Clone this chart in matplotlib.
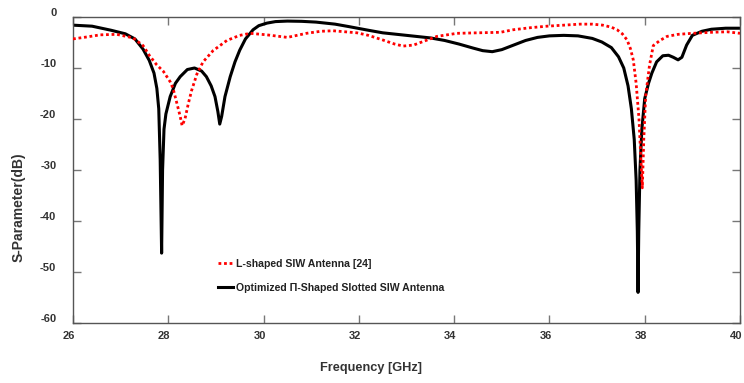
import matplotlib
matplotlib.use("Agg")
import matplotlib.pyplot as plt
import matplotlib.transforms as mtransforms

plt.rcParams['font.family'] = ['Liberation Sans', 'DejaVu Sans']
plt.rcParams['axes.unicode_minus'] = False

# ---- data ----
freq_opt = [26.0, 26.4, 26.8, 27.1, 27.3, 27.47, 27.6, 27.7, 27.76, 27.8, 27.83, 27.86,
            27.88, 27.91, 27.95, 28.04, 28.15, 28.25, 28.4, 28.55, 28.7, 28.8, 28.9, 28.98,
            29.04, 29.08, 29.12, 29.19, 29.3, 29.4, 29.5, 29.62, 29.78, 29.9, 30.07, 30.25,
            30.5, 30.8, 31.1, 31.5, 31.8, 32.2, 32.5, 32.9, 33.2, 33.5, 33.8, 34.1, 34.4,
            34.6, 34.8, 35.0, 35.25, 35.5, 35.75, 36.0, 36.3, 36.6, 36.9, 37.1, 37.3, 37.45,
            37.56, 37.65, 37.72, 37.78, 37.82, 37.845, 37.86, 37.875, 37.9, 37.94, 38.0,
            38.08, 38.15, 38.25, 38.38, 38.5, 38.6, 38.7, 38.78, 38.88, 39.0, 39.2, 39.4,
            39.7, 40.0]
s_opt = [-1.6, -1.8, -2.6, -3.3, -4.3, -6.3, -8.5, -11.0, -14.0, -18.0, -28.0, -46.3,
         -30.0, -22.0, -19.0, -15.6, -13.0, -11.7, -10.3, -10.0, -10.6, -11.7, -13.5, -15.6,
         -18.5, -21.0, -19.5, -15.6, -11.7, -8.8, -6.5, -4.3, -2.5, -1.7, -1.2, -0.9,
         -0.8, -0.85, -1.0, -1.4, -1.9, -2.6, -3.1, -3.5, -3.8, -4.1, -4.6, -5.3, -6.1,
         -6.6, -6.8, -6.4, -5.5, -4.6, -4.0, -3.7, -3.6, -3.7, -4.2, -4.9, -6.0, -7.8,
         -10.0, -13.5, -18.0, -24.0, -32.0, -42.0, -54.0, -42.0, -30.0, -22.0, -16.0,
         -13.0, -11.0, -8.8, -7.6, -7.5, -7.9, -8.4, -7.9, -5.5, -3.6, -2.8, -2.4,
         -2.2, -2.2]

freq_l = [26.0, 26.3, 26.57, 26.92, 27.26, 27.47, 27.6, 27.75, 27.9, 28.04, 28.1, 28.18,
          28.25, 28.29, 28.35, 28.42, 28.49, 28.6, 28.73, 28.94, 29.23, 29.5, 29.72, 30.07,
          30.5, 30.9, 31.2, 31.46, 31.96, 32.2, 32.5, 32.75, 32.93, 33.15, 33.35, 33.64,
          34.06, 34.5, 34.97, 35.24, 35.6, 35.95, 36.3, 36.64, 36.9, 37.12, 37.3, 37.42,
          37.53, 37.63, 37.7, 37.76, 37.82, 37.88, 37.92, 37.95, 37.98, 38.02, 38.1,
          38.18, 38.32, 38.47, 38.7, 39.0, 39.4, 39.73, 40.0]
s_l = [-4.3, -3.9, -3.5, -3.4, -4.1, -5.6, -7.5, -9.3, -10.7, -12.7, -14.0, -16.9,
       -19.5, -21.3, -20.0, -17.0, -14.4, -11.2, -8.8, -6.6, -4.6, -3.6, -3.2, -3.5,
       -4.0, -3.2, -2.8, -2.7, -3.1, -3.6, -4.5, -5.3, -5.7, -5.5, -4.8, -3.8,
       -3.2, -3.1, -3.0, -2.5, -2.1, -1.8, -1.6, -1.4, -1.4, -1.6, -2.0, -2.5,
       -3.3, -4.5, -6.2, -8.4, -13.0, -20.0, -28.0, -33.5, -24.0, -15.5, -9.5,
       -5.6, -4.6, -3.8, -3.4, -3.2, -3.0, -2.9, -3.2]

label_l = "L-shaped SIW Antenna [24]"
label_opt = "Optimized \u03a0-Shaped Slotted SIW Antenna"
x_ticks = [26, 28, 30, 32, 34, 36, 38, 40]
y_ticks = [0, -10, -20, -30, -40, -50, -60]

fig = plt.figure(figsize=(7.44, 3.83), dpi=100)
ax = fig.add_axes([73/744, 1 - 323/383, (740-73)/744, (323-17)/383])

ax.plot(freq_l, s_l, color='#ff0000', lw=2.0, linestyle=(0, (1, 1)), label=label_l,
        zorder=3)
ax.plot(freq_opt, s_opt, color='black', lw=2.2, label=label_opt, zorder=2)

ax.set_xlim(26, 40)
ax.set_ylim(-60, 0)
ax.set_xticks(x_ticks)
ax.set_yticks(y_ticks)

tick_col = '#333333'
spine_col = '#555555'
for s in ax.spines.values():
    s.set_color(spine_col)
    s.set_linewidth(1.0)
ax.tick_params(direction='in', top=True, right=True, length=6, width=1.0,
               color='#777777', labelcolor=tick_col, labelsize=8)
ax.tick_params(axis='y', pad=12)
ax.tick_params(axis='x', pad=6)
for lab in ax.get_xticklabels() + ax.get_yticklabels():
    lab.set_fontweight('bold')
# small offsets seen in the reference
dx = mtransforms.ScaledTranslation(-4/100, 0, fig.dpi_scale_trans)
for lab in ax.get_xticklabels():
    lab.set_transform(lab.get_transform() + dx)
dy = mtransforms.ScaledTranslation(0, 5/100, fig.dpi_scale_trans)
for lab in ax.get_yticklabels():
    lab.set_transform(lab.get_transform() + dy)

ax.set_xlabel("Frequency [GHz]", fontsize=9.2, fontweight='bold', color=tick_col)
ax.set_ylabel("S-Parameter(dB)", fontsize=10, fontweight='bold', color=tick_col)
ax.xaxis.set_label_coords(0.447, -0.128)
ax.yaxis.set_label_coords(-0.071, 0.379)

leg = ax.legend(loc='upper left', bbox_to_anchor=(0.218, 0.21), frameon=False,
                fontsize=7.6, handlelength=1.4, handletextpad=0.25, labelspacing=1.33,
                borderpad=0, borderaxespad=0)
for t in leg.get_texts():
    t.set_fontweight('bold')
    t.set_color('#222222')

fig.savefig("out.png", dpi=100)
